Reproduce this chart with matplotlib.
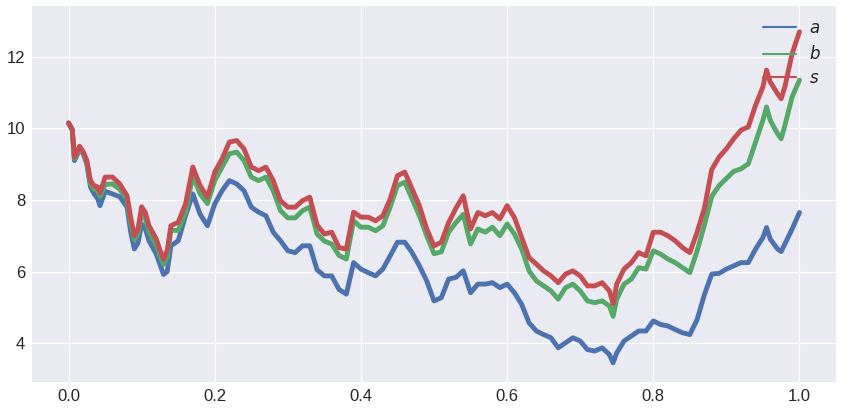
import matplotlib
matplotlib.use("Agg")
from matplotlib import pyplot as plt

t = [0.000, 0.005, 0.008, 0.015, 0.020, 0.025, 0.030, 0.035, 0.040, 0.043,
     0.050, 0.060, 0.070, 0.080, 0.085, 0.090, 0.095, 0.100, 0.105, 0.110,
     0.120, 0.125, 0.130, 0.135, 0.140, 0.150, 0.160, 0.170, 0.180, 0.190,
     0.200, 0.210, 0.220, 0.230, 0.240, 0.250, 0.260, 0.270, 0.280, 0.290,
     0.300, 0.310, 0.320, 0.330, 0.340, 0.350, 0.360, 0.370, 0.380, 0.390,
     0.400, 0.410, 0.420, 0.430, 0.440, 0.450, 0.460, 0.470, 0.480, 0.490,
     0.500, 0.510, 0.520, 0.530, 0.540, 0.550, 0.560, 0.570, 0.580, 0.590,
     0.600, 0.610, 0.620, 0.630, 0.640, 0.650, 0.660, 0.670, 0.680, 0.690,
     0.700, 0.710, 0.720, 0.730, 0.740, 0.745, 0.750, 0.760, 0.770, 0.780,
     0.790, 0.800, 0.810, 0.820, 0.830, 0.840, 0.850, 0.860, 0.870, 0.880,
     0.890, 0.900, 0.910, 0.920, 0.930, 0.940, 0.950, 0.955, 0.960, 0.970,
     0.975, 0.980, 0.990, 1.000]

a = [10.15, 9.95, 9.10, 9.40, 9.30, 9.00, 8.36, 8.17, 8.03, 7.84,
     8.24, 8.17, 8.09, 7.80, 7.10, 6.63, 6.80, 7.33, 7.20, 6.86,
     6.49, 6.20, 5.92, 6.00, 6.72, 6.86, 7.56, 8.17, 7.60, 7.28,
     7.89, 8.26, 8.54, 8.45, 8.26, 7.80, 7.66, 7.56, 7.10, 6.86,
     6.58, 6.53, 6.72, 6.72, 6.05, 5.88, 5.88, 5.50, 5.37, 6.25,
     6.07, 5.97, 5.88, 6.07, 6.44, 6.82, 6.82, 6.53, 6.16, 5.74,
     5.18, 5.27, 5.79, 5.84, 6.02, 5.41, 5.65, 5.65, 5.69, 5.55,
     5.65, 5.41, 5.08, 4.57, 4.34, 4.24, 4.15, 3.87, 4.01, 4.15,
     4.06, 3.82, 3.78, 3.87, 3.68, 3.45, 3.73, 4.06, 4.20, 4.34,
     4.34, 4.62, 4.52, 4.48, 4.38, 4.29, 4.24, 4.66, 5.36, 5.93,
     5.95, 6.07, 6.16, 6.25, 6.25, 6.63, 6.95, 7.23, 6.91, 6.63,
     6.56, 6.77, 7.19, 7.65]

b = [10.15, 9.97, 9.15, 9.45, 9.32, 9.05, 8.45, 8.30, 8.30, 8.10,
     8.43, 8.45, 8.30, 8.00, 7.35, 6.90, 7.05, 7.65, 7.50, 7.10,
     6.75, 6.45, 6.20, 6.40, 7.15, 7.15, 7.65, 8.68, 8.17, 7.90,
     8.54, 8.92, 9.29, 9.34, 9.10, 8.64, 8.54, 8.64, 8.26, 7.70,
     7.50, 7.50, 7.70, 7.80, 7.05, 6.85, 6.77, 6.45, 6.35, 7.42,
     7.24, 7.24, 7.14, 7.28, 7.80, 8.40, 8.50, 8.03, 7.56, 7.00,
     6.50, 6.55, 7.10, 7.37, 7.60, 6.77, 7.19, 7.10, 7.24, 7.00,
     7.33, 7.05, 6.63, 6.02, 5.74, 5.60, 5.46, 5.23, 5.55, 5.65,
     5.46, 5.18, 5.13, 5.18, 5.04, 4.75, 5.23, 5.65, 5.79, 6.11,
     6.07, 6.58, 6.49, 6.35, 6.25, 6.11, 5.97, 6.58, 7.30, 8.10,
     8.40, 8.60, 8.80, 8.87, 9.01, 9.62, 10.23, 10.60, 10.23, 9.85,
     9.71, 10.08, 10.88, 11.35]

s = [10.15, 9.98, 9.20, 9.50, 9.35, 9.10, 8.54, 8.40, 8.36, 8.20,
     8.64, 8.64, 8.45, 8.12, 7.51, 7.00, 7.20, 7.81, 7.65, 7.28,
     6.91, 6.60, 6.35, 6.60, 7.28, 7.38, 7.89, 8.92, 8.40, 8.08,
     8.78, 9.15, 9.62, 9.66, 9.43, 8.92, 8.82, 8.92, 8.54, 7.98,
     7.80, 7.80, 7.98, 8.08, 7.30, 7.05, 7.10, 6.67, 6.63, 7.66,
     7.52, 7.52, 7.42, 7.56, 8.03, 8.68, 8.78, 8.31, 7.84, 7.19,
     6.72, 6.82, 7.37, 7.77, 8.12, 7.19, 7.65, 7.56, 7.65, 7.47,
     7.84, 7.51, 6.95, 6.39, 6.21, 6.02, 5.88, 5.69, 5.93, 6.02,
     5.88, 5.60, 5.60, 5.69, 5.46, 5.10, 5.65, 6.07, 6.25, 6.53,
     6.44, 7.10, 7.10, 7.00, 6.86, 6.67, 6.53, 7.10, 7.78, 8.85,
     9.20, 9.43, 9.71, 9.95, 10.04, 10.65, 11.16, 11.63, 11.30, 10.97,
     10.83, 11.16, 12.09, 12.70]

labels = ['$a$', '$b$', '$s$']
colors = ['#4C72B0', '#55A868', '#C44E52']

plt.style.use('seaborn-v0_8-darkgrid')
plt.rcParams['font.family'] = ['Liberation Sans', 'DejaVu Sans']

fig = plt.figure(figsize=(8.43, 4.11), dpi=100)
ax = fig.add_axes([0.038, 0.0706, 0.9537, 0.9148])

for ys, lab, col in zip([a, b, s], labels, colors):
    ax.plot(t, ys, color=col, lw=3.5, label=lab)

ax.set_xlim(-0.05, 1.05)
ax.set_ylim(2.915, 13.42)
ax.set_xticks([0.0, 0.2, 0.4, 0.6, 0.8, 1.0])
ax.set_yticks([4, 6, 8, 10, 12])
ax.tick_params(labelsize=12, labelcolor='#262626', pad=5, length=0)

leg = ax.legend(loc='upper right', fontsize=12, frameon=False)
for line in leg.get_lines():
    line.set_linewidth(1.5)

fig.savefig('out.png', dpi=100)
